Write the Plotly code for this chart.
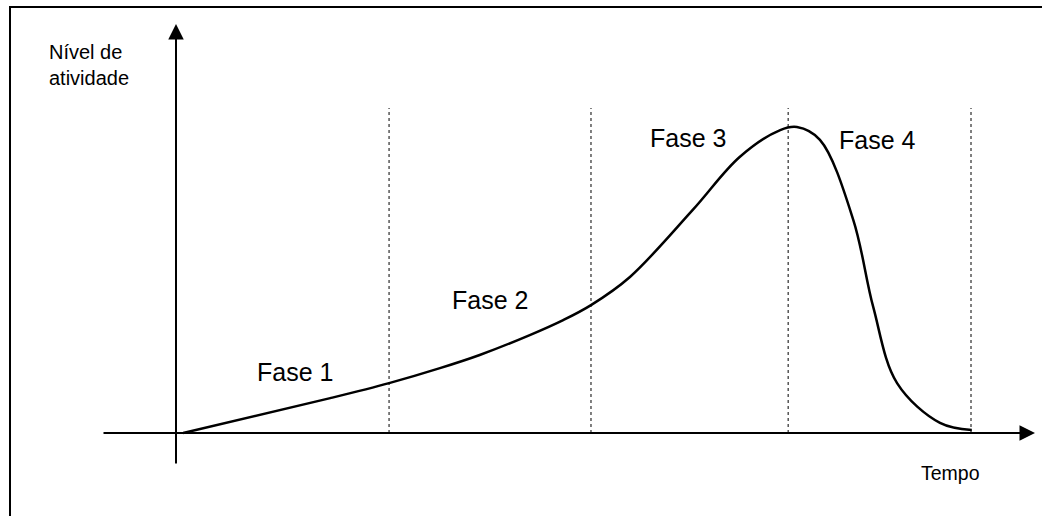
import plotly.graph_objects as go

# activity curve (time units, activity as % of peak)
tempo = [0.9, 19.4, 26.8, 33.2, 38.2, 44.5, 48.7, 52.2, 57.1, 65.0, 70.9,
         76.0, 78.1, 81.0, 85.2, 87.7, 90.7, 96.1, 100.1]
atividade = [0.0, 11.4, 16.3, 21.2, 25.5, 32.0, 36.9, 41.8, 51.0, 72.9, 90.2,
             99.0, 100.0, 95.8, 69.6, 41.2, 16.3, 3.3, 1.0]

# phase boundaries and labels
limites_fase = [26.8, 52.2, 77.0, 100.0]
fases = ["Fase 1", "Fase 2", "Fase 3", "Fase 4"]
fase_t = [15.0, 39.5, 64.4, 88.2]
fase_a = [19.9, 43.5, 96.4, 95.8]

# canvas mapping (pixels per unit)
W, H = 1042, 516
X0, Y0 = 176, 433
PX_T, PX_A = 7.95, 3.06

x_range = [(0 - X0) / PX_T, (W - X0) / PX_T]
y_range = [(Y0 - H) / PX_A, Y0 / PX_A]

FONT = "Liberation Sans, Arial, sans-serif"

fig = go.Figure()

fig.add_trace(go.Scatter(
    x=tempo, y=atividade, mode="lines",
    line=dict(color="black", width=2.5, shape="spline", smoothing=1.0),
    hoverinfo="skip", showlegend=False,
))

# dotted phase separators
for t in limites_fase:
    fig.add_shape(type="line", x0=t, x1=t, y0=0, y1=106.2, xref="x", yref="y",
                  line=dict(color="black", width=1, dash="dot"))

# axes with arrowheads
fig.add_annotation(x=(1035 - X0) / PX_T, y=0, ax=(102 - X0) / PX_T, ay=0,
                   xref="x", yref="y", axref="x", ayref="y", text="",
                   showarrow=True, arrowhead=2, arrowsize=1.55, arrowwidth=2,
                   arrowcolor="black", standoff=0)
fig.add_annotation(x=0, y=(Y0 - 24) / PX_A, ax=0, ay=(Y0 - 465) / PX_A,
                   xref="x", yref="y", axref="x", ayref="y", text="",
                   showarrow=True, arrowhead=2, arrowsize=1.55, arrowwidth=2,
                   arrowcolor="black", standoff=0)

for nome, t, a in zip(fases, fase_t, fase_a):
    fig.add_annotation(x=t, y=a, text=nome, showarrow=False,
                       font=dict(family=FONT, size=25, color="black"))

fig.add_annotation(x=-11.0, y=120.3, text="Nível de<br>atividade", showarrow=False,
                   align="left", font=dict(family=FONT, size=20, color="black"))
fig.add_annotation(x=97.4, y=-13.1, text="Tempo", showarrow=False,
                   font=dict(family=FONT, size=19.5, color="black"))

# outer frame (cropped on the right and bottom)
fig.add_shape(type="rect", xref="paper", yref="paper",
              x0=10 / W, x1=1.05, y0=-0.05, y1=1 - 7 / H,
              line=dict(color="black", width=2))

fig.update_layout(
    width=W, height=H,
    margin=dict(l=0, r=0, t=0, b=0),
    plot_bgcolor="white", paper_bgcolor="white",
    xaxis=dict(range=x_range, visible=False, fixedrange=True),
    yaxis=dict(range=y_range, visible=False, fixedrange=True),
)

# remove the default page margin so the figure sits at the window corner
fig.write_html("out.html", config={"displayModeBar": False},
               post_script="document.body.style.margin='0';")
